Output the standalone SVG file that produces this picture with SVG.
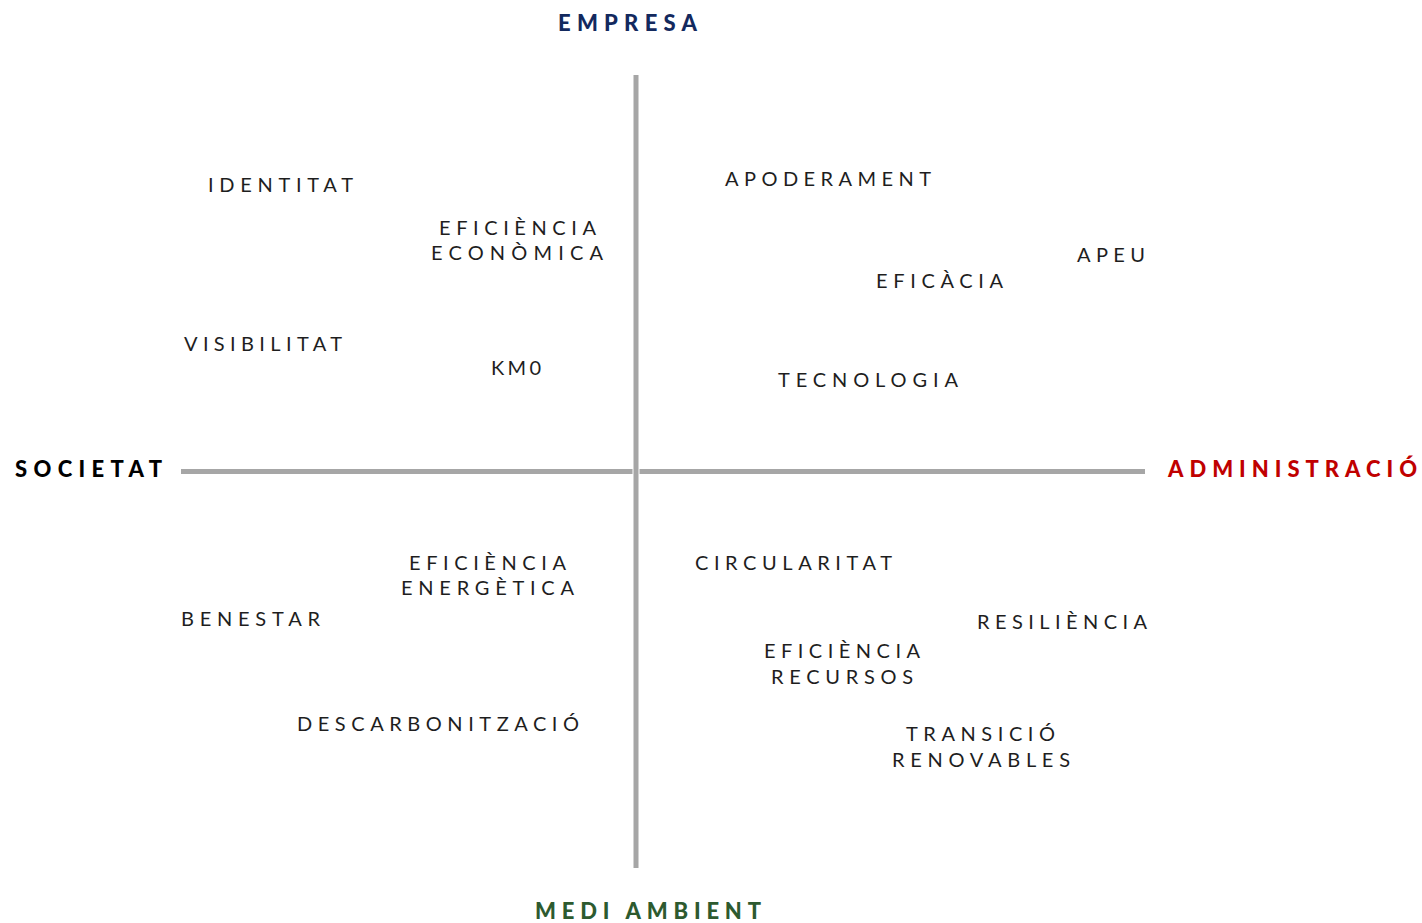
<svg xmlns="http://www.w3.org/2000/svg" width="1422" height="923" viewBox="0 0 1422 923">
<style>
.t{font-family:Lato,"Noto Sans","Liberation Sans",sans-serif;font-size:20px;fill:#1e1e1e;}
.h{font-family:Lato,"Noto Sans","Liberation Sans",sans-serif;font-size:22px;font-weight:900;}
.ax{stroke:#a6a6a6;stroke-width:5;fill:none;}
</style>
<rect width="1422" height="923" fill="#ffffff"/>
<g id="axes">
<line class="ax" x1="636" y1="75" x2="636" y2="868"/>
<line class="ax" x1="181" y1="471.5" x2="632.5" y2="471.5"/>
<line class="ax" x1="639.5" y1="471.5" x2="1145" y2="471.5"/>
</g>
<g id="empresa"><text class="h" x="558" y="31" textLength="139" lengthAdjust="spacing" fill="#13295e">EMPRESA</text></g>
<g id="societat"><text class="h" x="15" y="477" textLength="147" lengthAdjust="spacing" fill="#000000">SOCIETAT</text></g>
<g id="administracio"><text class="h" x="1168" y="477" textLength="249" lengthAdjust="spacing" fill="#c00000">ADMINISTRACIÓ</text></g>
<g id="medi-ambient"><text class="h" x="535" y="919" textLength="226" lengthAdjust="spacing" fill="#2d5a2f">MEDI AMBIENT</text></g>
<g id="identitat"><text class="t" x="208" y="192" textLength="145" lengthAdjust="spacing">IDENTITAT</text></g>
<g id="eficiencia-economica">
<text class="t" x="439" y="235" textLength="157" lengthAdjust="spacing">EFICIÈNCIA</text>
<text class="t" x="431" y="260" textLength="172" lengthAdjust="spacing">ECONÒMICA</text>
</g>
<g id="visibilitat"><text class="t" x="184" y="351" textLength="158" lengthAdjust="spacing">VISIBILITAT</text></g>
<g id="km0"><text class="t" x="491" y="375" textLength="50" lengthAdjust="spacing">KM0</text></g>
<g id="apoderament"><text class="t" x="725" y="186" textLength="206" lengthAdjust="spacing">APODERAMENT</text></g>
<g id="apeu"><text class="t" x="1077" y="262" textLength="68" lengthAdjust="spacing">APEU</text></g>
<g id="eficacia"><text class="t" x="876" y="288" textLength="127" lengthAdjust="spacing">EFICÀCIA</text></g>
<g id="tecnologia"><text class="t" x="778" y="387" textLength="180" lengthAdjust="spacing">TECNOLOGIA</text></g>
<g id="eficiencia-energetica">
<text class="t" x="409" y="570" textLength="157" lengthAdjust="spacing">EFICIÈNCIA</text>
<text class="t" x="401" y="595" textLength="173" lengthAdjust="spacing">ENERGÈTICA</text>
</g>
<g id="benestar"><text class="t" x="181" y="626" textLength="139" lengthAdjust="spacing">BENESTAR</text></g>
<g id="descarbonitzacio"><text class="t" x="297" y="731" textLength="282" lengthAdjust="spacing">DESCARBONITZACIÓ</text></g>
<g id="circularitat"><text class="t" x="695" y="570" textLength="197" lengthAdjust="spacing">CIRCULARITAT</text></g>
<g id="resiliencia"><text class="t" x="977" y="629" textLength="170" lengthAdjust="spacing">RESILIÈNCIA</text></g>
<g id="eficiencia-recursos">
<text class="t" x="764" y="658" textLength="156" lengthAdjust="spacing">EFICIÈNCIA</text>
<text class="t" x="771" y="684" textLength="142" lengthAdjust="spacing">RECURSOS</text>
</g>
<g id="transicio-renovables">
<text class="t" x="906" y="741" textLength="149" lengthAdjust="spacing">TRANSICIÓ</text>
<text class="t" x="892" y="767" textLength="178" lengthAdjust="spacing">RENOVABLES</text>
</g>
</svg>
